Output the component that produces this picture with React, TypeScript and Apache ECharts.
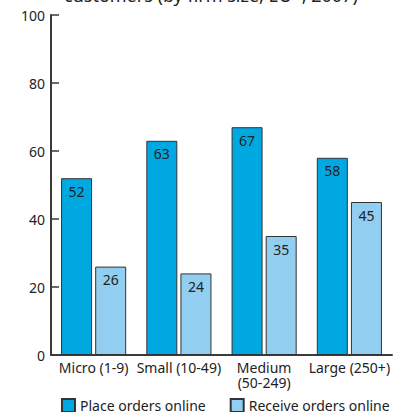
import React, { useEffect, useRef } from "react";
import * as echarts from "echarts";

const categories = ["Micro (1-9)", "Small (10-49)", "Medium\n(50-249)", "Large (250+)"];
const placeOrders = [52, 63, 67, 58];
const receiveOrders = [26, 24, 35, 45];
const seriesNames = ["Place orders online", "Receive orders online"];
const titleText = "customers (by firm size, EU*, 2007)";

const FONT = "'Noto Sans', sans-serif";

export default function App() {
  const ref = useRef<HTMLDivElement>(null);
  useEffect(() => {
    if (!ref.current) return;
    const chart = echarts.init(ref.current, null, { renderer: "svg" });
    const labelStyle = {
      show: true,
      position: "insideTop" as const,
      distance: 6,
      color: "#222",
      fontSize: 14,
      fontFamily: FONT,
    };
    chart.setOption({
      animation: false,
      backgroundColor: "#ffffff",
      textStyle: { fontFamily: FONT },
      graphic: [
        {
          type: "text",
          left: 64,
          top: -14,
          style: {
            text: titleText,
            fontSize: 18,
            fontFamily: FONT,
            fill: "#222",
          },
        },
      ],
      grid: { left: 51, right: 14, top: 15, bottom: 57 },
      legend: {
        left: 61,
        top: 398,
        padding: 0,
        itemWidth: 13,
        itemHeight: 13,
        itemGap: 24,
        icon: "rect",
        textStyle: { fontSize: 14, color: "#222", fontFamily: FONT },
        data: seriesNames,
      },
      xAxis: {
        type: "category",
        data: categories,
        axisLine: { lineStyle: { color: "#3a3a3a", width: 2 } },
        axisTick: { inside: true, length: 8, lineStyle: { color: "#3a3a3a", width: 1.5 } },
        axisLabel: { color: "#222", fontSize: 14, margin: 5, lineHeight: 15, fontFamily: FONT, interval: 0 },
      },
      yAxis: {
        type: "value",
        min: 0,
        max: 100,
        interval: 20,
        splitLine: { show: false },
        axisLine: { show: true, lineStyle: { color: "#3a3a3a", width: 2 } },
        axisTick: { show: true, inside: true, length: 8, lineStyle: { color: "#3a3a3a", width: 1.5 } },
        axisLabel: { color: "#222", fontSize: 14, margin: 6, fontFamily: FONT },
      },
      series: [
        {
          name: seriesNames[0],
          type: "bar",
          data: placeOrders,
          barWidth: 31,
          barGap: "10%",
          itemStyle: { color: "#00a8e1", borderColor: "#333", borderWidth: 1 },
          label: labelStyle,
        },
        {
          name: seriesNames[1],
          type: "bar",
          data: receiveOrders,
          barWidth: 31,
          barGap: "10%",
          itemStyle: { color: "#92ceef", borderColor: "#333", borderWidth: 1 },
          label: labelStyle,
        },
      ],
    });
    return () => chart.dispose();
  }, []);
  return (
    <div
      ref={ref}
      style={{ position: "absolute", left: 0, top: 0, width: 406, height: 412 }}
    />
  );
}
